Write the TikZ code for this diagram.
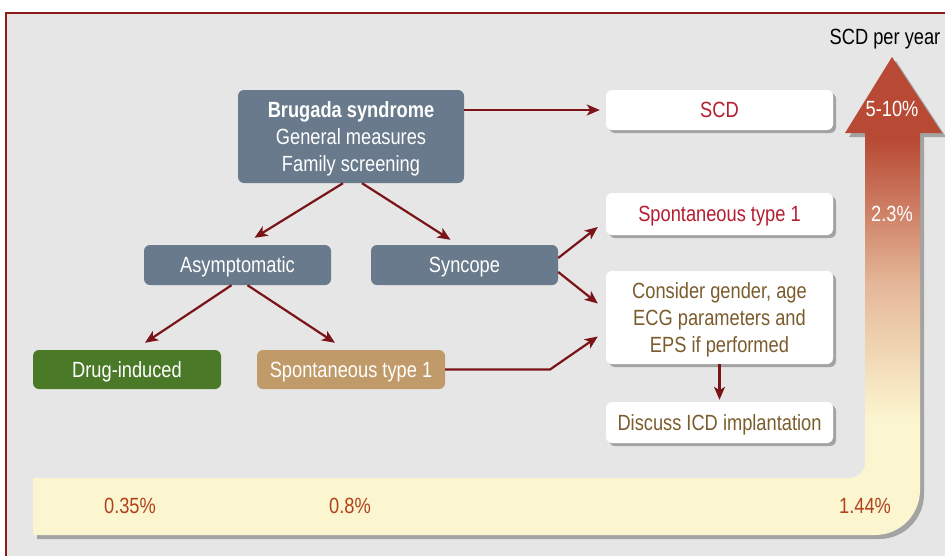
\documentclass[tikz,border=0pt]{standalone}
\usepackage{fontspec}
\setmainfont{Liberation Sans}[FakeStretch=0.83]
\usetikzlibrary{arrows.meta,shadows}
\definecolor{bggray}{HTML}{E6E6E6}
\definecolor{framered}{HTML}{8B1A1A}
\definecolor{slate}{HTML}{687A8B}
\definecolor{leaf}{HTML}{4A7A28}
\definecolor{tan}{HTML}{C09A68}
\definecolor{arrred}{HTML}{7A1418}
\definecolor{crimson}{HTML}{B41E30}
\definecolor{olive}{HTML}{7B5C2C}
\definecolor{pcttxt}{HTML}{B0421E}
\definecolor{redtop}{HTML}{B84A35}
\definecolor{midcol}{HTML}{E4B596}
\definecolor{pale}{HTML}{FCF6D0}
\definecolor{shadowgray}{HTML}{A3A3A3}
\tikzset{
  box/.style={rounded corners=6pt, inner sep=0pt, align=center, text depth=0pt,
    font=\fontsize{22}{27}\selectfont},
  darkbox/.style={box, fill=slate, text=white},
  whitebox/.style={box, fill=white,
    drop shadow={shadow xshift=3pt, shadow yshift=-3pt, fill=shadowgray, opacity=1}},
  conn/.style={draw=arrred, line width=2.2pt,
    -{Stealth[length=13pt, width=11pt, inset=3.5pt]}},
  pct/.style={font=\fontsize{22}{27}\selectfont}
}
\begin{document}
\begin{tikzpicture}[x=1pt, y=-1pt]
\useasboundingbox (0,0) rectangle (945,555);
\fill[white] (0,0) rectangle (945,555);
\fill[bggray] (6,13) rectangle (950,560);
\draw[framered, line width=2.5pt] (6,560) -- (6,13) -- (950,13);

% big arrow
\def\bigarrowpath{(33,478) -- (850,478) .. controls (858.3,478) and (865,469.7) .. (865,463) -- (865,133) -- (845,133) -- (892,57) -- (942,133) -- (920,133) -- (920,490) .. controls (920,515) and (900,535) .. (875,535) -- (33,535) -- cycle}
\fill[shadowgray, xshift=4pt, yshift=-4pt] \bigarrowpath;
\begin{scope}
  \clip \bigarrowpath;
  \fill[redtop] (820,40) rectangle (960,141);
  \shade[top color=redtop, bottom color=midcol] (820,140) rectangle (960,281);
  \shade[top color=midcol, bottom color=pale] (820,280) rectangle (960,421);
  \fill[pale] (20,420) rectangle (960,560);
\end{scope}

\node[pct, text=white] (p510) at (892,109) {5-10\%};
\node[pct, text=white] (p23) at (892,214) {2.3\%};
\node[pct, text=pcttxt] (p144) at (865,506) {1.44\%};
\node[pct, text=pcttxt] (p035) at (130,506) {0.35\%};
\node[pct, text=pcttxt] (p08) at (350,506) {0.8\%};
\node[pct, text=black] (scdyear) at (885,39) {SCD per year};

% nodes
\node[darkbox, minimum width=226pt, minimum height=93pt] (brugada) at (351,136.5)
  {\textbf{Brugada syndrome}\\General measures\\Family screening};
\node[whitebox, text=crimson, minimum width=227pt, minimum height=40pt] (scd) at (719.5,110) {SCD};
\node[whitebox, text=crimson, minimum width=227pt, minimum height=42pt] (st1r) at (719.5,214) {Spontaneous type 1};
\node[whitebox, text=olive, minimum width=227pt, minimum height=93pt] (consider) at (719.5,317.5)
  {Consider gender, age\\ECG parameters and\\EPS if performed};
\node[whitebox, text=olive, minimum width=227pt, minimum height=41pt] (discuss) at (719.5,422.5) {Discuss ICD implantation};
\node[darkbox, minimum width=187pt, minimum height=40pt] (asym) at (237.5,265) {Asymptomatic};
\node[darkbox, minimum width=187pt, minimum height=40pt] (sync) at (464.5,265) {Syncope};
\node[box, fill=leaf, text=white, minimum width=188pt, minimum height=39pt] (drug) at (127,369.5) {Drug-induced};
\node[box, fill=tan, text=white, minimum width=188pt, minimum height=39pt] (st1l) at (351,369.5) {Spontaneous type 1};

\coordinate (elbow) at (550,369.5);

% connectors
\draw[conn] (brugada.east |- scd.west) -- ([xshift=-6pt]scd.west);
\draw[conn] ([xshift=-8pt]brugada.south) -- ([xshift=17pt,yshift=7pt]asym.north);
\draw[conn] ([xshift=11pt]brugada.south) -- ([xshift=-14pt,yshift=5pt]sync.north);
\draw[conn] ([yshift=7pt]sync.east) -- ([xshift=-8pt,yshift=-13pt]st1r.west);
\draw[conn] ([yshift=-7pt]sync.east) -- ([xshift=-8pt,yshift=14pt]consider.west);
\draw[conn] ([xshift=-6pt]asym.south) -- ([xshift=18pt,yshift=7pt]drug.north);
\draw[conn] ([xshift=10pt]asym.south) -- ([xshift=-16pt,yshift=7pt]st1l.north);
\draw[conn] (st1l.east) -- (elbow) -- ([xshift=-8pt,yshift=-19pt]consider.west);
\draw[conn] (consider.south) -- ([yshift=2pt]discuss.north);
\end{tikzpicture}
\end{document}
